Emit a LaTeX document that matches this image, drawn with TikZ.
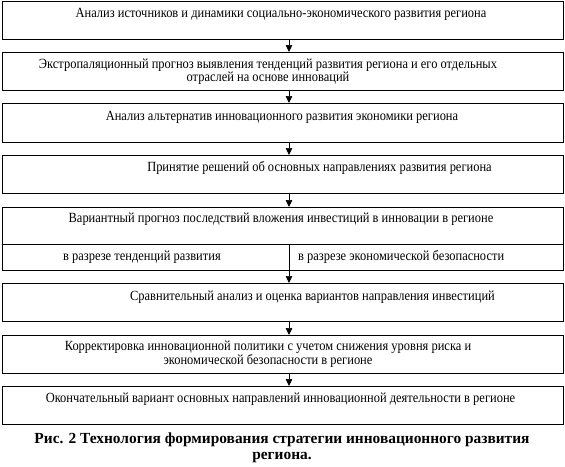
\documentclass[tikz,border=0pt]{standalone}
\usepackage{fontspec}
\setmainfont{Liberation Serif}
\newfontfamily\boxfont[FakeStretch=0.89]{Liberation Serif}
\usepackage{tikz}
\usetikzlibrary{arrows.meta, positioning}

\tikzset{
  stage/.style={draw, line width=0.8pt, anchor=north west, inner sep=0pt,
    minimum width=561pt, minimum height=38pt},
  stagetext/.style={align=center, inner sep=0pt, font=\boxfont\fontsize{14}{13}\selectfont},
  flow/.style={-{Triangle[length=7pt, width=6.5pt]}, line width=0.7pt}
}

\begin{document}
\begin{tikzpicture}[x=1pt, y=-1pt]
\useasboundingbox (0,0) rectangle (565,466);

% Boxes
\node[stage] (b1) at (1.7, 1) {};
\node[stage] (b2) at (1.7, 52) {};
\node[stage, minimum height=39pt] (b3) at (1.7, 103) {};
\node[stage] (b4) at (1.7, 155) {};
\node[stage, minimum height=63pt] (b5) at (1.7, 207) {};
\node[stage] (b6) at (1.7, 283) {};
\node[stage] (b7) at (1.7, 335) {};
\node[stage] (b8) at (1.7, 386) {};

% Texts
\node[stagetext] (t1) at (281, 14) {Анализ источников и динамики социально-экономического развития региона};
\node[stagetext] (t2) at (268, 72) {Экстропаляционный прогноз выявления тенденций развития региона и его отдельных\\ отраслей на основе инноваций};
\node[stagetext] (t3) at (282, 117) {Анализ альтернатив инновационного развития экономики региона};
\node[stagetext] (t4) at (319.5, 168) {Принятие решений об основных направлениях развития региона};
\node[stagetext] (t5) at (281, 219) {Вариантный прогноз последствий вложения инвестиций в инновации в регионе};
\node[stagetext, anchor=west] (t5a) at (63, 257) {в разрезе тенденций развития};
\node[stagetext, anchor=west] (t5b) at (298, 257) {в разрезе экономической безопасности};
\node[stagetext] (t6) at (312.5, 297) {Сравнительный анализ и оценка вариантов направления инвестиций};
\node[stagetext] (t7) at (268, 354) {Корректировка инновационной политики с учетом снижения уровня риска и\\ экономической безопасности в регионе};
\node[stagetext] (t8) at (280.5, 399) {Окончательный вариант основных направлений инновационной деятельности в регионе};

% Split of the forecast box
\coordinate (split) at (289, 244);
\draw[line width=0.8pt] (b5.west |- split) -- (b5.east |- split);
\draw[line width=0.8pt] (split) -- (b5.south -| split);

% Arrows
\coordinate (axis) at (289, 0);
\draw[flow] (b1.south -| axis) -- (b2.north -| axis);
\draw[flow] (b2.south -| axis) -- (b3.north -| axis);
\draw[flow] (b3.south -| axis) -- (b4.north -| axis);
\draw[flow] (b4.south -| axis) -- (b5.north -| axis);
\draw[flow] (b5.south -| axis) -- (b6.north -| axis);
\draw[flow] (b6.south -| axis) -- (b7.north -| axis);
\draw[flow] (b7.south -| axis) -- (b8.north -| axis);

% Caption
\node[align=center, font=\bfseries\fontsize{15.4}{16}\selectfont] (cap) at (282, 448)
  {Рис. 2 Технология формирования стратегии инновационного развития\\ региона.};
\end{tikzpicture}
\end{document}
